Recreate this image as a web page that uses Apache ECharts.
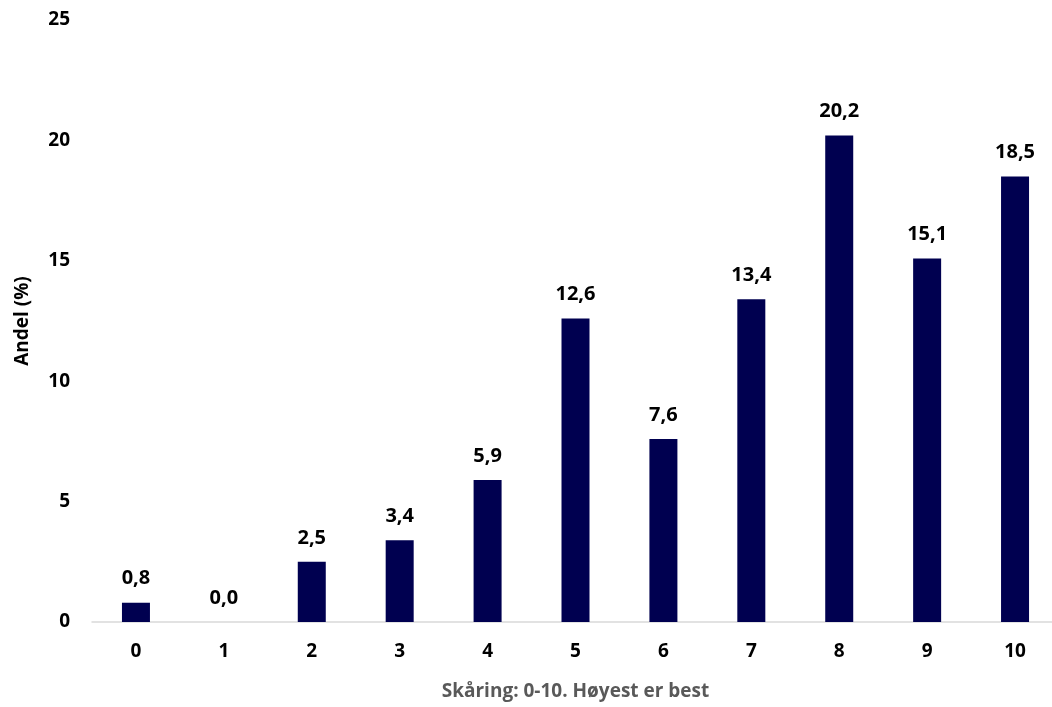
<!DOCTYPE html>
<html>
<head>
<meta charset="utf-8">
<script src="https://cdn.jsdelivr.net/npm/echarts@6/dist/echarts.min.js"></script>
<style>html,body{margin:0;padding:0;background:#fff}#c{width:1052px;height:707px}</style>
</head>
<body>
<div id="c"></div>
<script>
const categories = ['0','1','2','3','4','5','6','7','8','9','10'];
const values = [0.8, 0.0, 2.5, 3.4, 5.9, 12.6, 7.6, 13.4, 20.2, 15.1, 18.5];
const yTicks = [0, 5, 10, 15, 20, 25];
const xTitle = 'Skåring: 0-10. Høyest er best';
const yTitle = 'Andel (%)';

const FONT = '"Open Sans", "Liberation Sans", sans-serif';
const chart = echarts.init(document.getElementById('c'), null, {renderer: 'canvas'});
chart.setOption({
  animation: false,
  grid: {left: 92, right: -7, top: 20, bottom: 85, containLabel: false, outerBoundsMode: 'none'},
  xAxis: {
    type: 'category',
    data: categories,
    name: xTitle,
    nameLocation: 'middle',
    nameGap: 60,
    nameTextStyle: {color: '#595959', fontFamily: FONT, fontWeight: 'bold', fontSize: 19},
    axisLine: {show: true, lineStyle: {color: '#d9d9d9', width: 1.5}},
    axisTick: {show: false},
    axisLabel: {color: '#000', fontFamily: FONT, fontWeight: 'bold', fontSize: 19, margin: 20},
    splitLine: {show: false}
  },
  yAxis: {
    type: 'value',
    min: yTicks[0],
    max: yTicks[yTicks.length - 1],
    interval: 5,
    name: yTitle,
    nameLocation: 'middle',
    nameGap: 60,
    nameTextStyle: {color: '#000', fontFamily: FONT, fontWeight: 'bold', fontSize: 19},
    axisLine: {show: false},
    axisTick: {show: false},
    splitLine: {show: false},
    axisLabel: {color: '#000', fontFamily: FONT, fontWeight: 'bold', fontSize: 19, margin: 22}
  },
  series: [{
    type: 'bar',
    data: values,
    barWidth: 28,
    itemStyle: {color: '#000050'},
    label: {
      show: true,
      position: 'top',
      distance: 14,
      color: '#000',
      fontFamily: FONT,
      fontWeight: 'bold',
      fontSize: 20,
      formatter: p => p.value.toFixed(1).replace('.', ',')
    }
  }]
});
</script>
</body>
</html>
